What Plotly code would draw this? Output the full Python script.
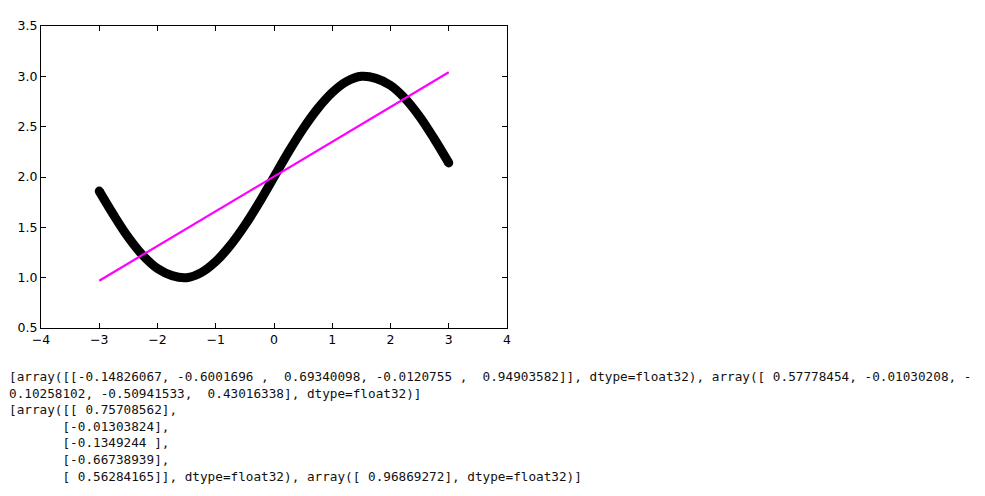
import plotly.graph_objects as go

# curve (thick black line)
CURVE_X = [-3.0, -2.75, -2.5, -2.25, -2.0, -1.75, -1.5, -1.25, -1.0, -0.75, -0.5, -0.25,
           0.0, 0.25, 0.5, 0.75, 1.0, 1.25, 1.5, 1.75, 2.0, 2.25, 2.5, 2.75, 3.0]
CURVE_Y = [1.86, 1.62, 1.40, 1.22, 1.09, 1.02, 1.00, 1.05, 1.16, 1.32, 1.52, 1.75,
           2.00, 2.25, 2.48, 2.68, 2.84, 2.95, 3.00, 2.98, 2.91, 2.78, 2.60, 2.38, 2.14]

# fitted straight line (magenta)
FIT_X = [-3.0, 3.0]
FIT_Y = [0.97, 3.04]

X_TICKS = [-4, -3, -2, -1, 0, 1, 2, 3, 4]
Y_TICKS = [0.5, 1.0, 1.5, 2.0, 2.5, 3.0, 3.5]

# console output printed under the figure
TEXT_LINES = [
    "[array([[-0.14826067, -0.6001696 ,  0.69340098, -0.0120755 ,  0.94903582]], dtype=float32), array([ 0.57778454, -0.01030208, -",
    "0.10258102, -0.50941533,  0.43016338], dtype=float32)]",
    "[array([[ 0.75708562],",
    "       [-0.01303824],",
    "       [-0.1349244 ],",
    "       [-0.66738939],",
    "       [ 0.56284165]], dtype=float32), array([ 0.96869272], dtype=float32)]",
]

# the page adds an 8px body margin, so everything is placed 8px up/left
OFF = 8
W, H = 985 - 2 * OFF, 496 - 2 * OFF
L, R, T, B = 41 - OFF, 507 - OFF, 18 - OFF, 328 - OFF  # plot area in figure pixels

fig = go.Figure()

fig.add_trace(go.Scatter(
    x=CURVE_X, y=CURVE_Y, mode='lines',
    line=dict(color='black', width=9, shape='spline'),
    showlegend=False, hoverinfo='skip'
))
# round caps at both ends of the thick curve
fig.add_trace(go.Scatter(
    x=[CURVE_X[0], CURVE_X[-1]], y=[CURVE_Y[0], CURVE_Y[-1]], mode='markers',
    marker=dict(color='black', size=9, opacity=1, line=dict(width=0)),
    showlegend=False, hoverinfo='skip'
))
fig.add_trace(go.Scatter(
    x=FIT_X, y=FIT_Y, mode='lines',
    line=dict(color='#FF00FF', width=2.2),
    showlegend=False, hoverinfo='skip'
))

axis_style = dict(
    showgrid=False, zeroline=False,
    showline=True, linecolor='black', linewidth=1, mirror='allticks',
    ticks='inside', ticklen=5, tickwidth=1, tickcolor='black',
    tickfont=dict(family='DejaVu Sans', size=12.5, color='black'),
)

fig.update_xaxes(range=[-4, 4], tickvals=X_TICKS, **axis_style)
fig.update_yaxes(range=[0.5, 3.5], tickvals=Y_TICKS, tickformat='.1f', **axis_style)

annotations = []
for i, line in enumerate(TEXT_LINES):
    py = 378 - OFF + i * 17
    annotations.append(dict(
        xref='paper', yref='paper',
        x=(0 - L) / (R - L), y=(B - py) / (B - T),
        xanchor='left', yanchor='middle',
        text=line.replace(' ', '\u00a0'),
        showarrow=False, align='left', borderpad=0,
        font=dict(family='DejaVu Sans Mono', size=12.7, color='#111111'),
    ))

fig.update_layout(
    width=W, height=H,
    margin=dict(l=L, r=W - R, t=T, b=H - B, pad=0),
    plot_bgcolor='white', paper_bgcolor='white',
    annotations=annotations,
)

fig.write_html("out.html")
